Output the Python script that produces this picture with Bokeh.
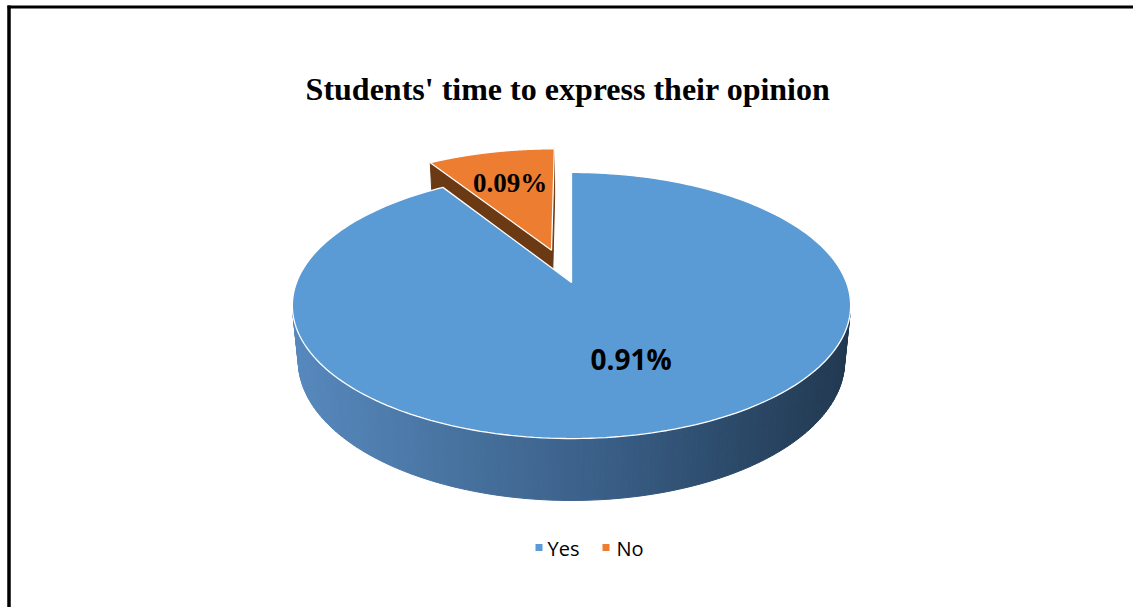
import numpy as np
from bokeh.plotting import figure
from bokeh.models import Range1d, ColumnDataSource
from bokeh.core.properties import value
from bokeh.embed import file_html
from bokeh.resources import INLINE

# ---------------- data ----------------
categories = ["Yes", "No"]
shares = [0.91, 0.09]
slice_labels = ["0.91%", "0.09%"]
title_text = "Students' time to express their opinion"

# ---------------- style / layout ----------------
W, H = 1133, 607
top_colors = ["#5b9bd5", "#ed7d31"]
cut_colors = ["#2f5b86", "#6b3a14"]
explode = [0.0, 0.272]
label_r = [0.57, 0.65]
label_shift_deg = [-4.0, 0.0]
label_fonts = ["Open Sans", "Liberation Serif"]
label_sizes = ["28px", "27px"]

CX, CY = 571.0, 282.0
F = 1405.0
D = 5.11
PHI = np.radians(28.0)
DEPTH = 0.23
cph, sph = np.cos(PHI), np.sin(PHI)


def proj(X, Z, Y=0.0):
    yc = Y * cph + Z * sph
    zc = D + Z * cph - Y * sph
    return CX + F * X / zc, CY - F * yc / zc


def zdepth(X, Z, Y=0.0):
    return D + Z * cph - Y * sph


def hex2rgb(h):
    return np.array([int(h[i:i + 2], 16) for i in (1, 3, 5)], dtype=float)


grad_stops = [(0.0, "#5789be"), (0.3, "#47729f"), (0.55, "#3a5f87"),
              (0.8, "#2b4968"), (1.0, "#213850")]


def grad(t):
    t = min(max(t, 0.0), 1.0)
    for (a, ca), (b, cb) in zip(grad_stops[:-1], grad_stops[1:]):
        if a <= t <= b:
            f = (t - a) / (b - a)
            c = hex2rgb(ca) * (1 - f) + hex2rgb(cb) * f
            return "#%02x%02x%02x" % tuple(int(round(v)) for v in c)
    return grad_stops[-1][1]


cam_z = -D * cph
ends = np.cumsum(shares) * 2 * np.pi
starts = ends - np.array(shares) * 2 * np.pi

p = figure(width=W, height=H, x_range=Range1d(0, W), y_range=Range1d(H, 0),
           output_backend="svg", toolbar_location=None, min_border=0,
           x_axis_type=None, y_axis_type=None)
p.grid.visible = False
p.outline_line_color = None
p.background_fill_color = "white"
p.border_fill_color = "white"

# draw back slices first (No is at the back), then front (Yes)
order = [1, 0]
label_pos = {}
for i in order:
    t0, t1 = starts[i], ends[i]
    mid = 0.5 * (t0 + t1)
    ox, oz = explode[i] * np.sin(mid), explode[i] * np.cos(mid)
    faces = []  # (depth, xs, ys, color)
    # cut faces
    for th, n in [(t0, (-np.cos(t0), np.sin(t0))), (t1, (np.cos(t1), -np.sin(t1)))]:
        px, pz = ox + 0.5 * np.sin(th), oz + 0.5 * np.cos(th)
        if n[0] * (-px) + n[1] * (cam_z - pz) > 0:
            a_t = proj(ox, oz, 0)
            r_t = proj(ox + np.sin(th), oz + np.cos(th), 0)
            r_b = proj(ox + np.sin(th), oz + np.cos(th), -DEPTH)
            a_b = proj(ox, oz, -DEPTH)
            xs = [a_t[0], r_t[0], r_b[0], a_b[0]]
            ys = [a_t[1], r_t[1], r_b[1], a_b[1]]
            faces.append((zdepth(px, pz, -DEPTH / 2), xs, ys, cut_colors[i]))
    # outer wall strips
    nstrip = max(int(np.degrees(t1 - t0) / 1.0), 2)
    ths = np.linspace(t0, t1, nstrip + 1)
    wall = []
    for a, b in zip(ths[:-1], ths[1:]):
        m = 0.5 * (a + b)
        px, pz = ox + np.sin(m), oz + np.cos(m)
        if np.sin(m) * (-px) + np.cos(m) * (cam_z - pz) > 0:
            ta = proj(ox + np.sin(a), oz + np.cos(a), 0)
            tb = proj(ox + np.sin(b), oz + np.cos(b), 0)
            bb = proj(ox + np.sin(b), oz + np.cos(b), -DEPTH)
            ba = proj(ox + np.sin(a), oz + np.cos(a), -DEPTH)
            wall.append((zdepth(px, pz, -DEPTH / 2), [ta[0], tb[0], bb[0], ba[0]],
                         [ta[1], tb[1], bb[1], ba[1]]))
    if wall:
        allx = [x for w in wall for x in w[1]]
        lo, hi = min(allx), max(allx)
        for dz, xs, ys in wall:
            t = (np.mean(xs) - lo) / (hi - lo)
            col = grad(t) if i == 0 else cut_colors[i]
            faces.append((dz, xs, ys, col))
    faces.sort(key=lambda f: -f[0])
    if faces:
        src = ColumnDataSource(dict(xs=[f[1] for f in faces], ys=[f[2] for f in faces],
                                    c=[f[3] for f in faces]))
        p.patches("xs", "ys", source=src, fill_color="c", line_color="c", line_width=1.0)
    # top face
    tt = np.linspace(t0, t1, 240)
    tx, ty = proj(ox + np.sin(tt), oz + np.cos(tt), 0)
    ax, ay = proj(ox, oz, 0)
    xs = np.concatenate([[ax], tx, [ax]])
    ys = np.concatenate([[ay], ty, [ay]])
    p.patch(xs, ys, fill_color=top_colors[i], line_color="white", line_width=1.3)
    # label position
    la = mid + np.radians(label_shift_deg[i])
    lx, ly = proj(ox + label_r[i] * np.sin(la), oz + label_r[i] * np.cos(la), 0)
    label_pos[i] = (lx, ly)

for i in range(len(categories)):
    lx, ly = label_pos[i]
    p.text(x=[lx], y=[ly], text=[slice_labels[i]], text_font=value(label_fonts[i]),
           text_font_style="bold", text_font_size=label_sizes[i], text_color="black",
           text_align="center", text_baseline="middle")

# title
p.text(x=[W / 2 + 1], y=[88], text=[title_text], text_font=value("Liberation Serif"),
       text_font_style="bold", text_font_size="32px", text_color="black",
       text_align="center", text_baseline="middle")

# legend
leg_sq_x = [538.5, 605.5]
leg_tx_x = [547, 616]
leg_y = 548
for i, cat in enumerate(categories):
    p.rect(x=[leg_sq_x[i]], y=[leg_y - 1], width=7, height=7, fill_color=top_colors[i],
           line_color=None)
    p.text(x=[leg_tx_x[i]], y=[leg_y], text=[cat], text_font=value("Open Sans"),
           text_font_size="20px", text_color="black", text_align="left",
           text_baseline="middle")

# frame lines (top and left)
p.segment(x0=[7], y0=[6.5], x1=[W], y1=[6.5], line_color="black", line_width=3)
p.segment(x0=[8.5], y0=[5], x1=[8.5], y1=[H], line_color="black", line_width=3.5)

open("out.html", "w").write(file_html(p, INLINE))
